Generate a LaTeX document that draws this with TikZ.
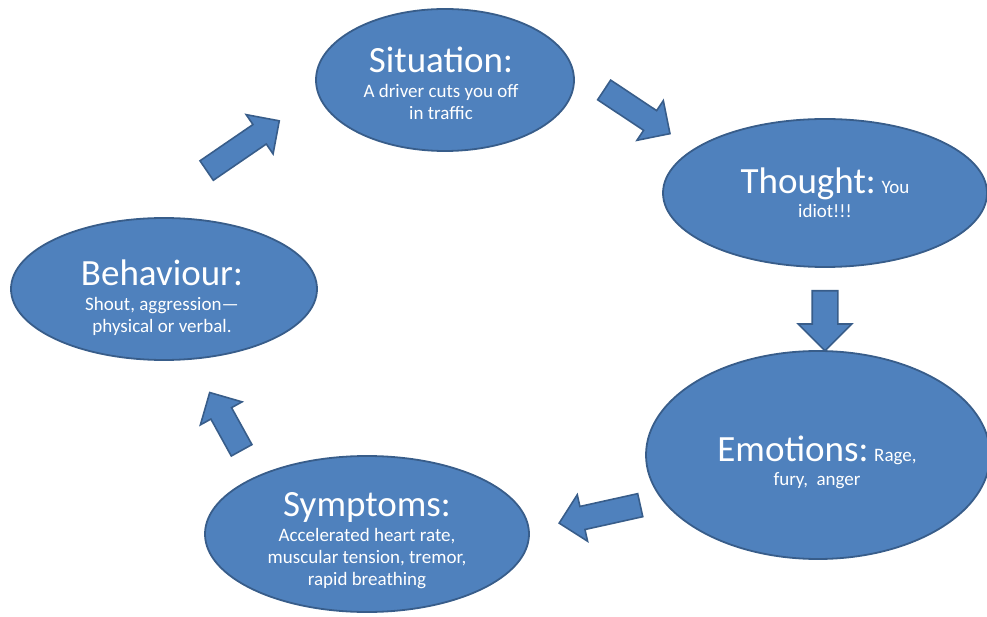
\documentclass[tikz,border=0pt]{standalone}
\usepackage{fontspec}
\setmainfont{Carlito}
\usetikzlibrary{shapes.geometric,shapes.arrows,positioning}

\definecolor{bubblefill}{HTML}{4F81BD}
\definecolor{bubbleline}{HTML}{385D8A}
\newcommand{\headline}[1]{{\fontsize{37}{24}\selectfont #1}}

\begin{document}
\begin{tikzpicture}[x=1pt,y=1pt,
  		bubble/.style={ellipse,draw=bubbleline,fill=bubblefill,line width=1.8pt,inner sep=0pt},
  		words/.style={align=center,text=white,inner sep=0pt,font=\fontsize{19}{22}\selectfont},
  		blockarrow/.style={single arrow,draw=bubbleline,fill=bubblefill,line width=1.6pt,
    		inner xsep=0pt,inner ysep=11pt,single arrow head extend=12pt,anchor=tail}]
    		\useasboundingbox (0,0) rectangle (987,616);
    		% Bubbles
    		\node[bubble,minimum width=258,minimum height=142] (sit) at (445,536) {};
    		\node[bubble,minimum width=324,minimum height=148] (tho) at (825,423) {};
    		\node[bubble,minimum width=344,minimum height=208] (emo) at (818,161) {};
    		\node[bubble,minimum width=324,minimum height=156] (sym) at (367,82) {};
    		\node[bubble,minimum width=306,minimum height=142] (beh) at (164,327) {};
    		% Texts
    		\node[words] (sit-t) at (441,533) {\headline{Situation:}\\[3pt]A driver cuts you off\\in traffic};
    		\node[words] (tho-t) at (825,423) {\headline{Thought:} You\\[2pt]idiot!!!};
    		\node[words] (emo-t) at (817,154) {\headline{Emotions:} Rage,\\[2pt]fury, \ anger};
    		\node[words] (sym-t) at (367,75) {\headline{Symptoms:}\\[3pt]Accelerated heart rate,\\muscular tension, tremor,\\rapid breathing};
    		\node[words] (beh-t) at (162,318) {\headline{Behaviour:}\\[3pt]Shout, aggression---\\physical or verbal.};
    		% Arrows
    		\node[blockarrow,minimum height=88,rotate=34.4] (beh-sit) at (206,445) {};
    		\node[blockarrow,minimum height=79,rotate=-33.6] (sit-tho) at (603.5,526.5) {};
    		\node[blockarrow,minimum height=60,rotate=-90,inner ysep=12pt,single arrow head extend=14pt] (tho-emo) at (825,326) {};
    		\node[blockarrow,minimum height=83,rotate=192.5] (emo-sym) at (641,111) {};
    		\node[blockarrow,minimum height=66,rotate=118.9] (sym-beh) at (242,165) {};
\end{tikzpicture}
\end{document}
